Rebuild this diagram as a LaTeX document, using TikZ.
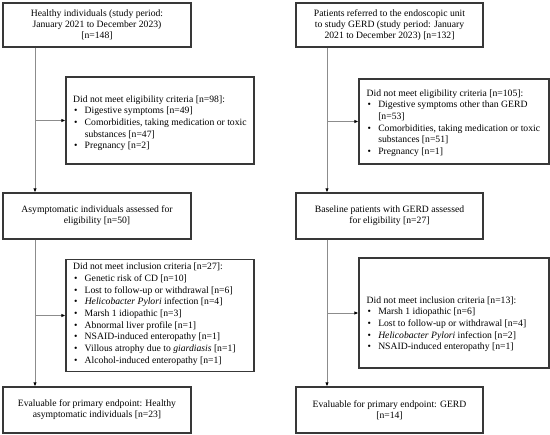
\documentclass[tikz,border=0pt]{standalone}
\usepackage{fontspec}
\setmainfont{Liberation Serif}
\usetikzlibrary{arrows.meta}
\begin{document}
\begin{tikzpicture}[x=1bp,y=-1bp,
  mainbox/.style={draw=black!78, line width=1.1bp, minimum width=188bp, minimum height=46bp, align=center, font=\fontsize{9.7}{11.2}\selectfont, inner sep=0pt},
  exbox/.style={draw=black!78, line width=1.1bp, minimum width=188bp, inner sep=0pt},
  extext/.style={anchor=base west, inner sep=0pt, font=\fontsize{9.7}{11.7}\selectfont},
  conn/.style={draw=black!45, line width=0.8bp, -{Latex[length=4bp,width=3.4bp,color=black]}},
  link/.style={draw=black!45, line width=0.8bp}]
\useasboundingbox (0,0) rectangle (550,435);

% main boxes
\node[mainbox, minimum height=44bp] (h0) at (97,25) {Healthy individuals (study period:\\January 2021 to December 2023)\\{}[n=148]};
\node[mainbox] (h1) at (97,216) {Asymptomatic individuals assessed for\\eligibility [n=50]};
\node[mainbox] (h2) at (97,410) {Evaluable for primary endpoint: Healthy\\asymptomatic individuals [n=23]};
\node[mainbox, minimum width=187bp, minimum height=44bp] (g0) at (389.5,25) {Patients referred to the endoscopic unit\\to study GERD (study period: January\\2021 to December 2023) [n=132]};
\node[mainbox, minimum width=187bp] (g1) at (389.5,216) {Baseline patients with GERD assessed\\for eligibility [n=27]};
\node[mainbox, minimum width=187bp] (g2) at (389.5,410) {Evaluable for primary endpoint: GERD\\{}[n=14]};

% exclusion boxes
\node[exbox, minimum height=87bp] (he1) at (160,120.5) {};
\node[exbox, minimum height=112.5bp] (he2) at (160,315.5) {};
\node[exbox, minimum width=190bp, minimum height=85bp] (ge1) at (454,121.5) {};
\node[exbox, minimum width=190bp, minimum height=110bp] (ge2) at (454,313) {};

\node[extext] (he1t) at (73,102.2) {\begin{tabular}[t]{@{\hspace{1pt}}l@{\hspace{7.2pt}}l@{}}
\multicolumn{2}{@{}l@{}}{Did not meet eligibility criteria [n=98]:}\\
\textbullet & Digestive symptoms [n=49]\\
\textbullet & Comorbidities, taking medication or toxic\\
 & substances [n=47]\\
\textbullet & Pregnancy [n=2]
\end{tabular}};

\node[extext] (he2t) at (73,269.9) {\begin{tabular}[t]{@{\hspace{1pt}}l@{\hspace{7.2pt}}l@{}}
\multicolumn{2}{@{}l@{}}{Did not meet inclusion criteria [n=27]:}\\
\textbullet & Genetic risk of CD [n=10]\\
\textbullet & Lost to follow-up or withdrawal [n=6]\\
\textbullet & \textit{Helicobacter Pylori} infection [n=4]\\
\textbullet & Marsh 1 idiopathic [n=3]\\
\textbullet & Abnormal liver profile [n=1]\\
\textbullet & NSAID-induced enteropathy [n=1]\\
\textbullet & Villous atrophy due to \textit{giardiasis} [n=1]\\
\textbullet & Alcohol-induced enteropathy [n=1]
\end{tabular}};

\node[extext] (ge1t) at (366.5,96.2) {\begin{tabular}[t]{@{\hspace{1pt}}l@{\hspace{7.2pt}}l@{}}
\multicolumn{2}{@{}l@{}}{Did not meet eligibility criteria [n=105]:}\\
\textbullet & Digestive symptoms other than GERD\\
 & {}[n=53]\\
\textbullet & Comorbidities, taking medication or toxic\\
 & substances [n=51]\\
\textbullet & Pregnancy [n=1]
\end{tabular}};

\node[extext] (ge2t) at (366.5,303.2) {\begin{tabular}[t]{@{\hspace{1pt}}l@{\hspace{7.2pt}}l@{}}
\multicolumn{2}{@{}l@{}}{Did not meet inclusion criteria [n=13]:}\\
\textbullet & Marsh 1 idiopathic [n=6]\\
\textbullet & Lost to follow-up or withdrawal [n=4]\\
\textbullet & \textit{Helicobacter Pylori} infection [n=2]\\
\textbullet & NSAID-induced enteropathy [n=1]
\end{tabular}};

% connectors, left column
\coordinate (la) at ([xshift=-62bp]h0.south);
\coordinate (lb) at ([xshift=-62bp]h1.south);
\draw[conn] (la) -- (la |- h1.north);
\draw[conn] (la |- he1.west) -- (he1.west);
\draw[conn] (lb) -- (lb |- h2.north);
\draw[conn] (lb |- he2.west) -- (he2.west);

% connectors, right column
\coordinate (ra) at ([xshift=-62.5bp]g0.south);
\coordinate (rb) at ([xshift=-62.5bp]g1.south);
\draw[conn] (ra) -- (ra |- g1.north);
\draw[conn] (ra |- ge1.west) -- (ge1.west);
\draw[conn] (rb) -- (rb |- g2.north);
\draw[conn] (rb |- ge2.west) -- (ge2.west);
\end{tikzpicture}
\end{document}
